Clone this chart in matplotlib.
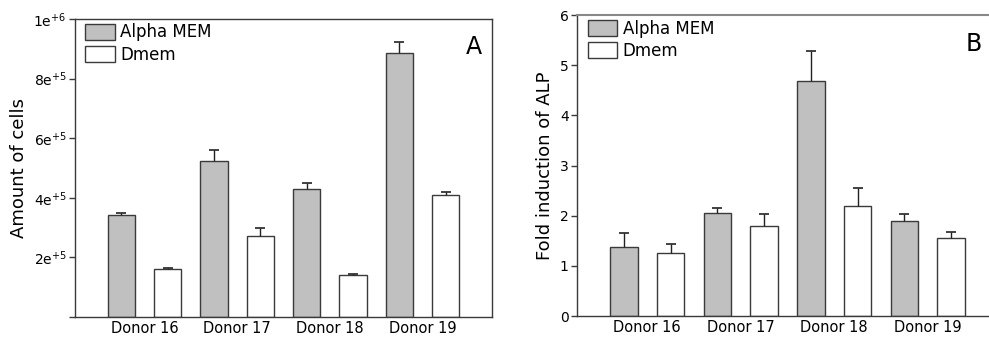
import numpy as np
import matplotlib
matplotlib.use("Agg")
import matplotlib.pyplot as plt
from matplotlib.patches import Patch

# -----------------------------------------------------------------------------
# Data
# -----------------------------------------------------------------------------
donors = ["Donor 16", "Donor 17", "Donor 18", "Donor 19"]
series = ["Alpha MEM", "Dmem"]

cells_alpha = [342000, 523000, 430000, 886000]
cells_alpha_err = [8000, 37000, 20000, 37000]
cells_dmem = [161000, 272000, 141000, 409000]
cells_dmem_err = [4000, 28000, 2000, 12000]

alp_alpha = [1.38, 2.05, 4.68, 1.90]
alp_alpha_err = [0.27, 0.11, 0.60, 0.14]
alp_dmem = [1.25, 1.80, 2.20, 1.55]
alp_dmem_err = [0.18, 0.23, 0.35, 0.13]

cells_ticks = [0, 200000, 400000, 600000, 800000, 1000000]
cells_ticklabels = ["", r"2e$^{+5}$", r"4e$^{+5}$", r"6e$^{+5}$",
                    r"8e$^{+5}$", r"1e$^{+6}$"]
alp_ticks = [0, 1, 2, 3, 4, 5, 6]

GREY = "#c0c0c0"
EDGE = "#3a3a3a"
SPINE = "#3a3a3a"

plt.rcParams["font.family"] = ["DejaVu Sans"]
plt.rcParams["mathtext.fontset"] = "dejavusans"


def draw_panel(ax, alpha, alpha_err, dmem, dmem_err, ylim, ylabel, letter):
    n = len(donors)
    x_alpha = np.arange(n) * 2 + 1
    x_dmem = x_alpha + 1
    w = 0.59
    err_kw = dict(ecolor="#222222", elinewidth=1.0, capsize=3.5, capthick=1.2)
    for x, vals, errs, fc in [(x_alpha, alpha, alpha_err, GREY),
                              (x_dmem, dmem, dmem_err, "white")]:
        cont = ax.bar(x, vals, w, color=fc, edgecolor=EDGE, linewidth=1.0,
                      yerr=[np.zeros(n), errs], error_kw=err_kw, zorder=2)
        # one-sided bars: hide the cap sitting on the bar top
        cont.errorbar.lines[1][0].set_visible(False)
    ax.set_xlim(0, 2 * n + 1)
    ax.set_ylim(*ylim)
    ax.set_xticks(x_alpha + 0.5)
    ax.set_xticklabels(donors, fontsize=10.5)
    ax.tick_params(axis="x", length=0, pad=3)
    ax.tick_params(axis="y", length=4, width=1, color=SPINE, labelsize=10,
                   pad=2)
    for s in ax.spines.values():
        s.set_color(SPINE)
        s.set_linewidth(1.0)
    ax.set_ylabel(ylabel, fontsize=13)
    ax.text(0.975, 0.945, letter, transform=ax.transAxes, ha="right",
            va="top", fontsize=17)
    handles = [Patch(facecolor=GREY, edgecolor=EDGE),
               Patch(facecolor="white", edgecolor=EDGE)]
    ax.legend(handles, series, loc="upper left",
              bbox_to_anchor=(0.025, 0.985), frameon=False, fontsize=12,
              handlelength=1.75, handleheight=1.15, handletextpad=0.35,
              labelspacing=0.25, borderpad=0, borderaxespad=0)


fig = plt.figure(figsize=(9.89, 3.38), dpi=100)

ax_a = fig.add_axes([0.0758, 0.062, 0.4217, 0.8817])
draw_panel(ax_a, cells_alpha, cells_alpha_err, cells_dmem, cells_dmem_err,
           (0, 1000000), "Amount of cells", "A")
ax_a.set_yticks(cells_ticks)
ax_a.set_yticklabels(cells_ticklabels)

ax_b = fig.add_axes([0.5834, 0.065, 0.4257, 0.8905])
draw_panel(ax_b, alp_alpha, alp_alpha_err, alp_dmem, alp_dmem_err,
           (0, 6), "Fold induction of ALP", "B")
ax_b.set_yticks(alp_ticks)
ax_b.spines["top"].set_color("#888888")
ax_b.spines["top"].set_linewidth(1.5)
ax_b.texts[0].set_position((0.962, 0.944))

fig.savefig("out.png", dpi=100)
